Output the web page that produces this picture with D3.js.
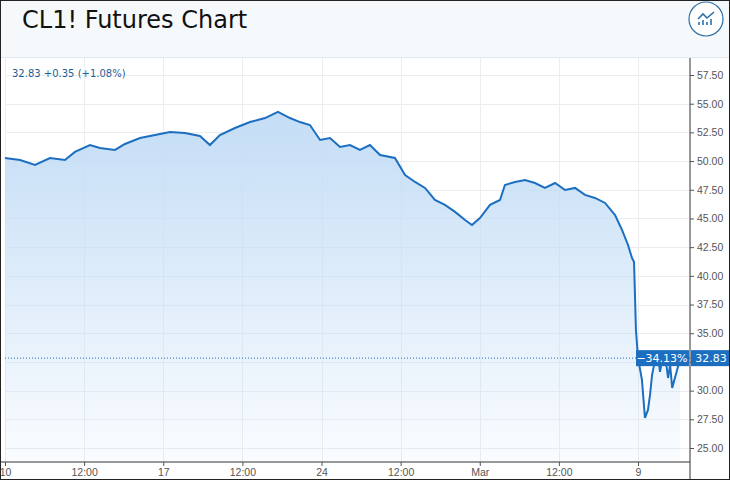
<!DOCTYPE html>
<html><head><meta charset="utf-8">
<script src="https://cdn.jsdelivr.net/npm/d3@7"></script>
<style>body{margin:0;background:#fff}svg{display:block;font-family:"DejaVu Sans",sans-serif}</style>
</head><body><svg id="c" width="730" height="480"></svg>
<script>
// time in weeks since Feb 10 (trading-time axis), price in USD
var times = [0,0.095,0.19,0.284,0.379,0.442,0.537,0.6,0.695,0.758,0.853,0.948,1.043,1.137,1.232,1.295,1.358,1.453,1.548,1.643,1.725,1.801,1.864,1.927,1.991,2.054,2.117,2.18,2.243,2.306,2.37,2.464,2.528,2.591,2.654,2.717,2.78,2.844,2.907,2.951,3.001,3.065,3.128,3.159,3.223,3.286,3.349,3.412,3.476,3.539,3.602,3.665,3.728,3.792,3.855,3.899,3.937,3.962,3.975,3.987,4.0,4.025,4.044,4.063,4.076,4.089,4.108,4.127,4.139,4.158,4.177,4.19,4.203,4.216,4.247,4.266];
var prices = [50.27,50.1,49.66,50.27,50.1,50.8,51.4,51.14,50.97,51.49,52.01,52.27,52.53,52.45,52.19,51.4,52.27,52.88,53.4,53.75,54.28,53.75,53.4,53.14,51.84,52.01,51.23,51.4,50.97,51.4,50.53,50.27,48.79,48.18,47.66,46.61,46.18,45.57,44.87,44.43,45.04,46.18,46.61,47.92,48.18,48.35,48.09,47.66,48.09,47.48,47.66,47.05,46.79,46.35,45.3,44.0,42.69,41.56,41.21,35.29,32.85,30.93,27.62,28.32,29.63,31.37,32.68,33.11,31.63,33.11,32.5,31.1,32.24,30.24,31.8,32.83];
var xTicks = [0,0.5,1,1.5,2,2.5,3,3.5,4];
var xLabels = ["10","12:00","17","12:00","24","12:00","Mar","12:00","9"];
var yTicks = [25,27.5,30,32.5,35,37.5,40,42.5,45,47.5,50,52.5,55,57.5];
var lastPrice = 32.83, change = "+0.35 (+1.08%)", pctLabel = "\u221234.13%";

var svg = d3.select("#c");
var L = 5, R = 690, T = 58, B = 462;
var blue = "#1c6fc0";

svg.append("rect").attr("width",730).attr("height",57).attr("fill","#f6f9fc");
svg.append("line").attr("x1",0).attr("x2",730).attr("y1",57.5).attr("y2",57.5).attr("stroke","#e3e8ee");
svg.append("text").attr("x",22).attr("y",28).attr("font-size",24).attr("fill","#111").text("CL1! Futures Chart");
var ic = svg.append("g").attr("transform","translate(706,19)");
ic.append("circle").attr("r",17).attr("fill","#fff").attr("stroke","#2d6fa8").attr("stroke-width",1.2);
ic.append("path").attr("d","M-8,0 L-3,-5 L1,-1 L8,-7").attr("fill","none").attr("stroke","#2d6fa8").attr("stroke-width",1.6);
ic.append("path").attr("d","M-7,6V3M-3,6V1M1,6V3M5,6V0").attr("stroke","#2d6fa8").attr("stroke-width",1.6);

var x = d3.scaleLinear().domain([0,4.35]).range([L, L + 4.35*158.25]);
var y = d3.scaleLinear().domain([25,57.5]).range([448,75]);

svg.append("g").selectAll("line").data(yTicks).join("line")
  .attr("x1",L).attr("x2",R).attr("y1",d=>Math.round(y(d))+0.5).attr("y2",d=>Math.round(y(d))+0.5).attr("stroke","#ebedf0");
svg.append("g").selectAll("line").data(xTicks).join("line")
  .attr("x1",d=>Math.round(x(d))+0.5).attr("x2",d=>Math.round(x(d))+0.5).attr("y1",T).attr("y2",B).attr("stroke","#ebedf0");

var grad = svg.append("defs").append("linearGradient").attr("id","g").attr("x1",0).attr("x2",0).attr("y1",0).attr("y2",1);
grad.append("stop").attr("offset","0%").attr("stop-color","#c4ddf6");
grad.append("stop").attr("offset","100%").attr("stop-color","#c4ddf6").attr("stop-opacity",0.08);

var data = times.map((t,i)=>[t,prices[i]]);
svg.append("path").datum(data).attr("fill","url(#g)")
  .attr("d", d3.area().x(d=>x(d[0])).y0(B).y1(d=>y(d[1])));
svg.append("path").datum(data).attr("fill","none").attr("stroke",blue).attr("stroke-width",2)
  .attr("d", d3.line().x(d=>x(d[0])).y(d=>y(d[1])));

svg.append("line").attr("x1",L).attr("x2",R).attr("y1",y(lastPrice)).attr("y2",y(lastPrice))
  .attr("stroke",blue).attr("stroke-dasharray","1,2");

// axes
var ya = svg.append("g").attr("transform","translate("+R+",0)")
  .call(d3.axisRight(y).tickValues(yTicks).tickFormat(d3.format(".2f")).tickSize(4));
ya.select(".domain").attr("d","M0,"+T+"V"+480).attr("stroke","#333");
ya.selectAll("text").attr("font-size",10.5).attr("fill","#555");
ya.selectAll(".tick line").attr("stroke","#555");
// the last-price box covers the nearest tick label
ya.selectAll(".tick").filter(d=>Math.abs(y(d)-y(lastPrice))<10).select("text").remove();
var xa = svg.append("g").attr("transform","translate(0,"+B+")")
  .call(d3.axisBottom(x).tickValues(xTicks).tickFormat((d,i)=>xLabels[i]).tickSize(4));
xa.select(".domain").attr("d","M0,0H"+R).attr("stroke","#333");
xa.selectAll("text").attr("font-size",10.5).attr("fill","#555");
xa.selectAll(".tick line").attr("stroke","#555");

// price labels
var py = y(lastPrice);
svg.append("rect").attr("x",636).attr("y",py-8).attr("width",53).attr("height",16).attr("fill",blue);
svg.append("text").attr("x",662).attr("y",py+4).attr("text-anchor","middle").attr("font-size",11).attr("fill","#fff").text(pctLabel);
svg.append("rect").attr("x",691).attr("y",py-8).attr("width",39).attr("height",16).attr("fill",blue);
svg.append("text").attr("x",711).attr("y",py+4).attr("text-anchor","middle").attr("font-size",11).attr("fill","#fff").text("32.83");

svg.append("text").attr("x",12).attr("y",77).attr("font-size",10).attr("fill","#1f5f99")
  .text(d3.format(".2f")(lastPrice)+" "+change);

svg.append("rect").attr("x",0.5).attr("y",0.5).attr("width",729).attr("height",479).attr("fill","none").attr("stroke","#222");
</script></body></html>
